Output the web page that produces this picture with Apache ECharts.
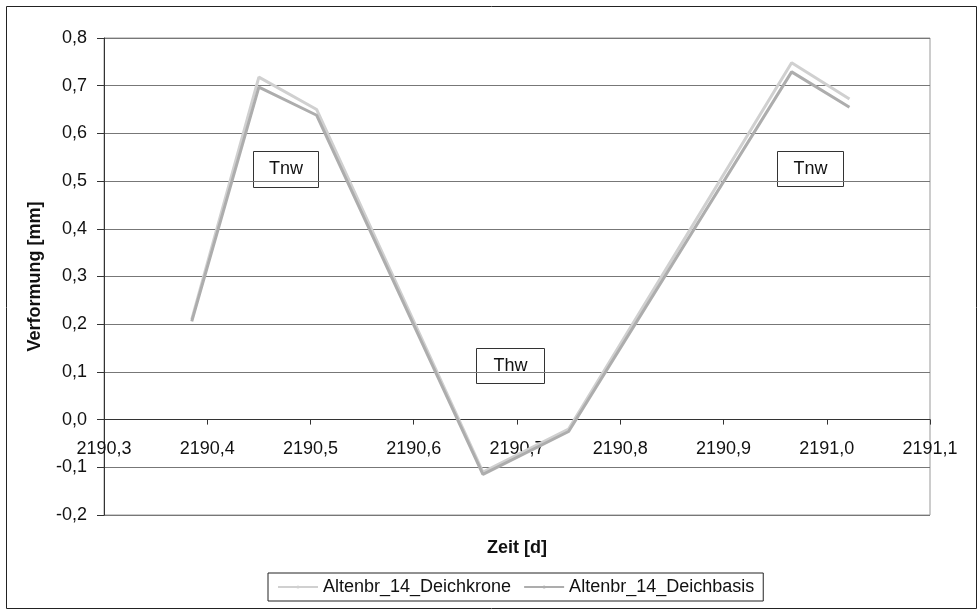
<!DOCTYPE html>
<html>
<head>
<meta charset="utf-8">
<script src="https://cdn.jsdelivr.net/npm/echarts@6/dist/echarts.min.js"></script>
<style>
  html, body { margin: 0; padding: 0; background: #fff; }
  #chart { width: 977px; height: 610px; }
</style>
</head>
<body>
<div id="chart"></div>
<script>
const zeit = [2190.385, 2190.45, 2190.506, 2190.667, 2190.75, 2190.966, 2191.022]
const deichkrone = [0.210, 0.718, 0.650, -0.110, -0.020, 0.748, 0.672]
const deichbasis = [0.206, 0.697, 0.638, -0.115, -0.025, 0.729, 0.655]
const seriesNames = ['Altenbr_14_Deichkrone', 'Altenbr_14_Deichbasis']

const fmt = v => v.toFixed(1).replace('.', ',')
const font = '"Liberation Sans", Arial, sans-serif'

const chart = echarts.init(document.getElementById('chart'))

// white box with a label, like the Excel text boxes
const labelBox = (x, y, w, h, text) => ({
  type: 'group',
  left: x,
  top: y,
  children: [
    { type: 'rect', shape: { x: 0, y: 0, width: w, height: h }, style: { fill: '#fff', stroke: '#333', lineWidth: 1 } },
    { type: 'text', x: w / 2, y: h / 2, style: { text: text, fontSize: 18, fontFamily: font, fill: '#111', align: 'center', verticalAlign: 'middle' } }
  ]
})

const option = {
  animation: false,
  backgroundColor: '#fff',
  grid: { left: 104, right: 47, top: 38, bottom: 95, show: true, borderColor: '#999', borderWidth: 1 },
  xAxis: {
    type: 'value',
    min: 2190.3,
    max: 2191.1,
    interval: 0.1,
    name: 'Zeit [d]',
    nameLocation: 'middle',
    nameGap: 24,
    nameTextStyle: { fontSize: 18, fontWeight: 'bold', fontFamily: font, color: '#111' },
    axisLine: { onZero: true, lineStyle: { color: '#333', width: 1 } },
    axisTick: { show: true, length: 5, lineStyle: { color: '#333' } },
    // labels sit just under the zero line, as in the original
    axisLabel: { formatter: fmt, fontSize: 18, fontFamily: font, color: '#111', margin: -75 },
    splitLine: { show: false }
  },
  yAxis: {
    type: 'value',
    min: -0.2,
    max: 0.8,
    interval: 0.1,
    name: 'Verformung [mm]',
    nameLocation: 'middle',
    nameGap: 60,
    nameTextStyle: { fontSize: 18, fontWeight: 'bold', fontFamily: font, color: '#111' },
    axisLine: { show: true, lineStyle: { color: '#333', width: 1 } },
    axisTick: { show: true, length: 7, lineStyle: { color: '#333' } },
    axisLabel: { formatter: fmt, fontSize: 18, fontFamily: font, color: '#111', margin: 17 },
    splitLine: { show: true, lineStyle: { color: '#777', width: 1 } }
  },
  legend: {
    data: seriesNames,
    top: 573,
    left: 268,
    orient: 'horizontal',
    borderColor: '#222',
    borderWidth: 1,
    padding: [5, 9],
    itemWidth: 40,
    itemHeight: 4,
    itemGap: 12,
    textStyle: { fontSize: 18, fontFamily: font, color: '#111' }
  },
  graphic: [
    { type: 'rect', left: 4, top: 4, shape: { width: 970, height: 602 }, style: { fill: 'none', stroke: '#222', lineWidth: 1 }, silent: true },
    labelBox(253, 151, 65, 36, 'Tnw'),
    labelBox(476, 348, 68, 35, 'Thw'),
    labelBox(777, 151, 66, 35, 'Tnw')
  ],
  series: [
    {
      name: seriesNames[0],
      type: 'line',
      data: zeit.map((x, i) => [x, deichkrone[i]]),
      symbol: 'none',
      lineStyle: { color: '#d0d0d0', width: 3 },
      itemStyle: { color: '#d0d0d0' }
    },
    {
      name: seriesNames[1],
      type: 'line',
      data: zeit.map((x, i) => [x, deichbasis[i]]),
      symbol: 'none',
      lineStyle: { color: '#adadad', width: 3 },
      itemStyle: { color: '#adadad' }
    }
  ]
}

chart.setOption(option)
</script>
</body>
</html>
